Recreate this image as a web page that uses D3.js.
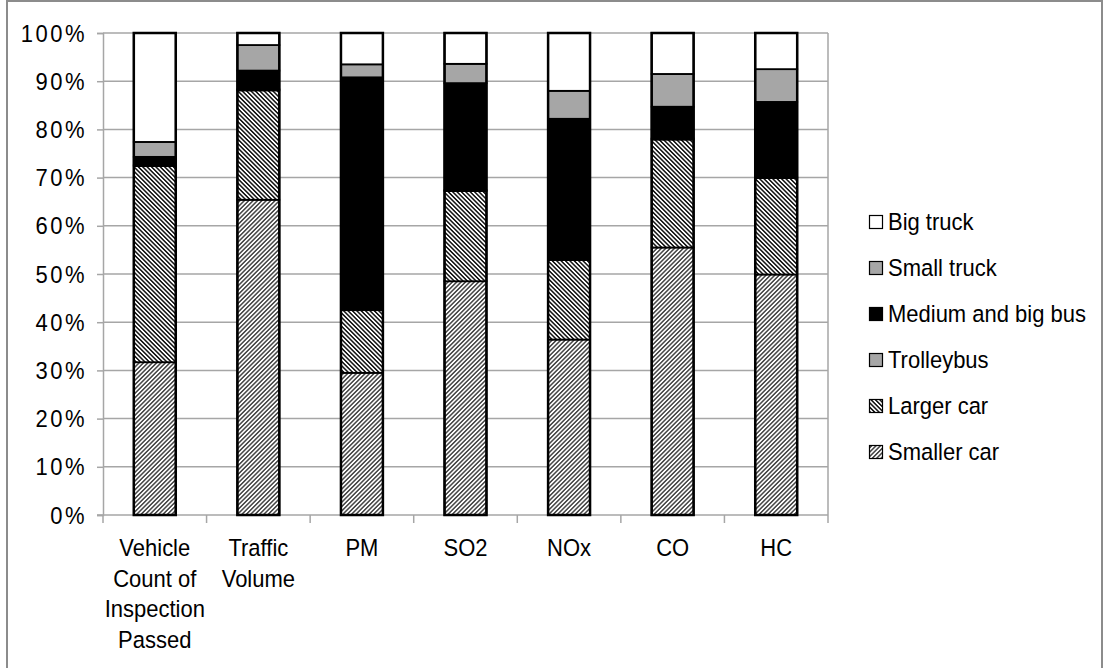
<!DOCTYPE html>
<html>
<head>
<meta charset="utf-8">
<script src="https://cdn.jsdelivr.net/npm/d3@7"></script>
<style>
  html, body { margin: 0; padding: 0; background: #fff; }
  svg { display: block; }
  text { font-family: "Liberation Sans", Arial, sans-serif; fill: #000; }
</style>
</head>
<body>
<svg id="chart" width="1105" height="668"></svg>
<script>
// ---- data ----
const categories = [
  ["Vehicle", "Count of", "Inspection", "Passed"],
  ["Traffic", "Volume"],
  ["PM"], ["SO2"], ["NOx"], ["CO"], ["HC"]
];
const seriesNames = ["Smaller car", "Larger car", "Trolleybus", "Medium and big bus", "Small truck", "Big truck"];
const smallerCar  = [31.7, 65.4, 29.5, 48.5, 36.4, 55.5, 49.9];
const largerCar   = [40.7, 22.7, 13.0, 18.7, 16.5, 22.4, 20.0];
const trolleybus  = [0.2, 0.2, 0.2, 0.2, 0.2, 0.2, 0.2];
const mediumBus   = [1.7, 3.9, 48.1, 22.2, 29.1, 6.6, 15.6];
const smallTruck  = [3.1, 5.3, 2.7, 4.0, 5.8, 6.8, 6.8];
const bigTruck    = [22.6, 2.5, 6.5, 6.4, 12.0, 8.5, 7.5];
const yTicks = [0, 10, 20, 30, 40, 50, 60, 70, 80, 90, 100];

const seriesValues = [smallerCar, largerCar, trolleybus, mediumBus, smallTruck, bigTruck];

const svg = d3.select("#chart");
const FS = 22, SY = 1.08;

// outer frame
svg.append("rect").attr("x", 7).attr("y", 1).attr("width", 1095).attr("height", 700)
  .attr("fill", "none").attr("stroke", "#8c8c8c").attr("stroke-width", 2);

// patterns
const defs = svg.append("defs");
function hatch(id, angle, period, sw) {
  const p = defs.append("pattern").attr("id", id).attr("patternUnits", "userSpaceOnUse")
    .attr("width", period).attr("height", period)
    .attr("patternTransform", `rotate(${angle})`);
  p.append("rect").attr("width", period).attr("height", period).attr("fill", "#fff");
  p.append("line").attr("x1", period / 2).attr("y1", 0).attr("x2", period / 2).attr("y2", period)
    .attr("stroke", "#000").attr("stroke-width", sw);
}
hatch("hSmall", 45, 3.1, 1.1);
hatch("hLarge", -45, 3.1, 1.4);

const fills = ["url(#hSmall)", "url(#hLarge)", "#a6a6a6", "#000", "#a6a6a6", "#fff"];

const m = { left: 103, right: 828, top: 33, bottom: 515 };
const x = d3.scaleBand().domain(d3.range(categories.length)).range([m.left, m.right]).paddingInner(0.595).paddingOuter(0.2975);
const y = d3.scaleLinear().domain([0, 100]).range([m.bottom, m.top]);

// gridlines
svg.append("g").selectAll("line").data(yTicks.filter(d => d > 0)).join("line")
  .attr("x1", m.left).attr("x2", m.right)
  .attr("y1", d => y(d)).attr("y2", d => y(d))
  .attr("stroke", "#a6a6a6").attr("stroke-width", 1.5);
// plot-area right edge
svg.append("line").attr("x1", m.right).attr("x2", m.right).attr("y1", m.top).attr("y2", m.bottom)
  .attr("stroke", "#a6a6a6").attr("stroke-width", 1.5);

// y axis
const yAxis = d3.axisLeft(y).tickValues(yTicks).tickFormat(d => d + "%").tickSize(6).tickPadding(12);
const gy = svg.append("g").attr("transform", `translate(${m.left},0)`).call(yAxis);
gy.select(".domain").attr("stroke", "#a6a6a6").attr("stroke-width", 1.5);
gy.selectAll(".tick line").attr("stroke", "#a6a6a6").attr("stroke-width", 1.5);
gy.selectAll("text")
  .attr("font-size", FS).attr("font-family", "Liberation Sans, Arial, sans-serif").attr("fill", "#000")
  .attr("letter-spacing", 2.5)
  .attr("dy", null).attr("y", 0).attr("x", 0)
  .attr("transform", `translate(-16,8) scale(1,${SY})`);

// x axis baseline and ticks at band boundaries
svg.append("line").attr("x1", m.left - 6).attr("x2", m.right).attr("y1", m.bottom).attr("y2", m.bottom)
  .attr("stroke", "#a6a6a6").attr("stroke-width", 1.5);
const bounds = d3.range(categories.length + 1).map(i => m.left + i * (m.right - m.left) / categories.length);
svg.append("g").selectAll("line").data(bounds).join("line")
  .attr("x1", d => d).attr("x2", d => d).attr("y1", m.bottom).attr("y2", m.bottom + 8)
  .attr("stroke", "#a6a6a6").attr("stroke-width", 1.5);

// stacked data
const table = categories.map((c, i) => {
  const o = { i };
  seriesNames.forEach((s, k) => o[s] = seriesValues[k][i]);
  return o;
});
const stack = d3.stack().keys(seriesNames)(table);

const gBars = svg.append("g");
stack.forEach((layer, k) => {
  gBars.append("g").selectAll("rect").data(layer).join("rect")
    .attr("x", d => x(d.data.i))
    .attr("width", x.bandwidth())
    .attr("y", d => y(d[1]))
    .attr("height", d => y(d[0]) - y(d[1]))
    .attr("fill", fills[k])
    .attr("stroke", "#000").attr("stroke-width", 1.8);
});
// bar outlines
gBars.append("g").selectAll("rect").data(table).join("rect")
  .attr("x", d => x(d.i)).attr("width", x.bandwidth())
  .attr("y", y(100)).attr("height", y(0) - y(100))
  .attr("fill", "none").attr("stroke", "#000").attr("stroke-width", 2.5);

// category labels
const gx = svg.append("g");
categories.forEach((lines, i) => {
  const cx = x(i) + x.bandwidth() / 2;
  lines.forEach((ln, j) => {
    gx.append("text").attr("text-anchor", "middle").attr("font-size", FS)
      .attr("transform", `translate(${cx},${556 + j * 30.5}) scale(1,${SY})`)
      .text(ln);
  });
});

// legend (top-down: reverse order)
const legendItems = seriesNames.map((s, k) => ({ s, k })).reverse();
const lg = svg.append("g");
legendItems.forEach((d, j) => {
  const cy = 222 + j * 46;
  lg.append("rect").attr("x", 869.5).attr("y", cy - 6.5).attr("width", 13).attr("height", 13)
    .attr("fill", fills[d.k]).attr("stroke", "#000").attr("stroke-width", 1.2);
  lg.append("text").attr("font-size", FS)
    .attr("transform", `translate(888,${cy + 8}) scale(1,${SY})`)
    .text(d.s);
});
</script>
</body>
</html>
